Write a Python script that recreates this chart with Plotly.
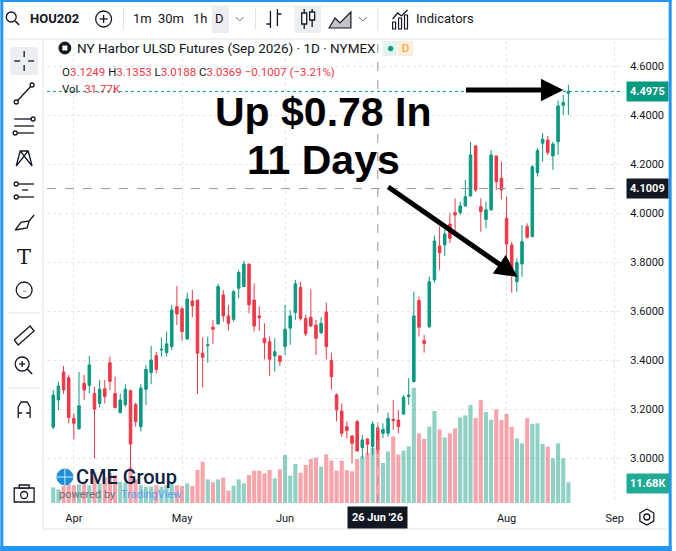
import pandas as pd
import plotly.graph_objects as go

# ---- data (NY Harbor ULSD, Sep 2026, daily) ----
holidays = ["2026-04-03", "2026-05-25", "2026-06-19", "2026-07-03"]
dates = pd.bdate_range("2026-03-26", "2026-08-19", freq="C", holidays=holidays)
# TradingView spaces bars by index, so the axis runs on bar numbers
calendar = pd.bdate_range("2026-03-26", "2026-09-02", freq="C", holidays=holidays)

open_ = [3.127, 3.238, 3.352, 3.329, 3.163, 3.121, 3.306, 3.298, 3.265, 3.224,
         3.284, 3.390, 3.264, 3.186, 3.219, 3.276, 3.220, 3.129, 3.282, 3.350,
         3.419, 3.442, 3.431, 3.456, 3.619, 3.610, 3.487, 3.642, 3.646, 3.429,
         3.460, 3.535, 3.548, 3.667, 3.581, 3.567, 3.694, 3.701, 3.793, 3.646,
         3.581, 3.490, 3.476, 3.418, 3.418, 3.456, 3.531, 3.595, 3.698, 3.571,
         3.576, 3.544, 3.513, 3.597, 3.399, 3.259, 3.193, 3.129, 3.091, 3.150,
         3.044, 3.079, 3.048, 3.1249, 3.102, 3.102, 3.159, 3.156, 3.181, 3.252,
         3.313, 3.644, 3.480, 3.537, 3.728, 3.867, 3.871, 3.956, 4.003, 4.003,
         4.030, 4.071, 4.275, 4.027, 3.975, 4.014, 4.234, 4.143, 3.980, 3.871,
         3.721, 3.793, 3.946, 3.905, 4.166, 4.286, 4.299, 4.234, 4.292, 4.441,
         4.490]
high = [3.279, 3.313, 3.377, 3.340, 3.184, 3.352, 3.340, 3.418, 3.293, 3.320,
        3.320, 3.415, 3.333, 3.265, 3.302, 3.280, 3.227, 3.302, 3.381, 3.459,
        3.435, 3.493, 3.517, 3.626, 3.703, 3.619, 3.676, 3.687, 3.646, 3.493,
        3.497, 3.565, 3.712, 3.687, 3.626, 3.687, 3.769, 3.807, 3.793, 3.714,
        3.619, 3.551, 3.497, 3.490, 3.422, 3.626, 3.605, 3.728, 3.721, 3.585,
        3.690, 3.565, 3.576, 3.635, 3.431, 3.265, 3.224, 3.150, 3.095, 3.156,
        3.095, 3.082, 3.150, 3.1353, 3.143, 3.186, 3.238, 3.197, 3.259, 3.327,
        3.680, 3.660, 3.503, 3.742, 3.909, 3.946, 3.932, 4.000, 4.061, 4.048,
        4.136, 4.292, 4.279, 4.061, 4.048, 4.258, 4.234, 4.211, 4.068, 3.884,
        3.816, 3.952, 3.959, 4.197, 4.265, 4.327, 4.316, 4.292, 4.460, 4.483,
        4.524]
low = [3.120, 3.197, 3.263, 3.143, 3.078, 3.116, 3.238, 3.265, 3.000, 3.208,
       3.224, 3.279, 3.204, 3.184, 3.211, 2.952, 3.129, 3.109, 3.218, 3.303,
       3.347, 3.415, 3.415, 3.442, 3.544, 3.480, 3.483, 3.576, 3.263, 3.290,
       3.390, 3.467, 3.548, 3.558, 3.521, 3.558, 3.653, 3.701, 3.592, 3.517,
       3.521, 3.404, 3.336, 3.354, 3.377, 3.422, 3.463, 3.565, 3.562, 3.499,
       3.535, 3.422, 3.507, 3.404, 3.282, 3.150, 3.088, 3.082, 2.980, 3.027,
       3.000, 3.014, 3.014, 3.0188, 3.082, 3.088, 3.116, 3.102, 3.177, 3.218,
       3.309, 3.497, 3.431, 3.531, 3.717, 3.769, 3.826, 3.878, 3.912, 3.993,
       4.027, 4.068, 4.088, 3.925, 3.939, 4.011, 4.095, 4.057, 3.810, 3.676,
       3.680, 3.741, 3.897, 3.902, 4.150, 4.211, 4.238, 4.177, 4.238, 4.401,
       4.401]
close = [3.258, 3.295, 3.279, 3.166, 3.143, 3.214, 3.279, 3.381, 3.201, 3.282,
         3.252, 3.314, 3.207, 3.238, 3.282, 3.058, 3.150, 3.286, 3.363, 3.401,
         3.363, 3.445, 3.467, 3.605, 3.589, 3.517, 3.650, 3.623, 3.429, 3.412,
         3.463, 3.527, 3.701, 3.581, 3.551, 3.680, 3.758, 3.793, 3.626, 3.540,
         3.574, 3.472, 3.404, 3.435, 3.395, 3.527, 3.581, 3.712, 3.571, 3.508,
         3.540, 3.490, 3.551, 3.456, 3.333, 3.197, 3.102, 3.113, 3.061, 3.030,
         3.075, 3.057, 3.140, 3.0369, 3.118, 3.163, 3.154, 3.129, 3.249, 3.258,
         3.581, 3.535, 3.469, 3.721, 3.887, 3.839, 3.916, 3.898, 3.993, 4.030,
         4.068, 4.238, 4.095, 4.007, 4.014, 4.238, 4.129, 4.095, 3.875, 3.776,
         3.799, 3.884, 3.902, 4.190, 4.256, 4.302, 4.248, 4.283, 4.438, 4.452,
         4.4975]
volume_k = [8.8, 7.7, 9.5, 10.5, 10.0, 10.5, 12.0, 10.0, 16.7, 11.0,
            14.5, 16.7, 15.8, 12.0, 11.5, 20.1, 13.3, 10.0, 9.2, 9.2,
            10.0, 9.2, 10.0, 10.7, 10.0, 9.5, 11.1, 9.6, 18.6, 23.3,
            13.3, 11.7, 13.3, 14.3, 7.0, 9.8, 13.3, 11.1, 15.8, 18.2,
            18.2, 16.7, 18.6, 13.9, 19.0, 27.1, 15.4, 22.0, 17.1, 21.4,
            24.8, 25.6, 20.5, 27.4, 23.9, 18.2, 23.9, 18.6, 17.9, 24.8,
            26.3, 28.2, 31.0, 31.77, 22.6, 29.1, 37.6, 27.3, 29.5, 32.0,
            65.0, 39.3, 36.1, 43.0, 51.9, 41.5, 37.0, 39.3, 42.1, 48.3,
            49.4, 55.3, 47.9, 58.1, 51.3, 47.0, 52.8, 46.8, 50.2, 43.0,
            36.5, 33.7, 47.9, 44.6, 44.9, 33.3, 31.8, 25.2, 33.7, 25.2,
            11.68]

month_ticks = ["2026-04-01", "2026-05-01", "2026-06-01", "2026-08-03", "2026-09-01"]
month_labels = ["Apr", "May", "Jun", "Aug", "Sep"]
price_ticks = [3.0, 3.2, 3.4, 3.6, 3.8, 4.0, 4.2, 4.4, 4.6]
cross_date = "2026-06-26"
cross_price = 4.1009
last_price = close[-1]
last_vol = volume_k[-1]

bars = list(range(len(dates)))
tick_bars = [calendar.get_loc(pd.Timestamp(d)) for d in month_ticks]
cross_bar = calendar.get_loc(pd.Timestamp(cross_date))

UP, DOWN = "#089981", "#F23645"
TXT = "#131722"
FONT = "Roboto"

# pixel frame of the chart pane, used to place the chrome around it
W, H = 676, 551
PL, PR, PT, PB = 47, 627, 41, 503
BAR0, BAR_PX = 53.3, 5.187      # first bar centre and bar spacing in the screenshot


def px(x):
    return (x - PL) / (PR - PL)


def py(y):
    return (PB - y) / (PB - PT)


def price_at(y):
    return 3.0 + (458.3 - y) / 245.0


shapes = []
annotations = []


def seg(x0, y0, x1, y1, color=TXT, width=1.3):
    shapes.append(dict(type="line", xref="paper", yref="paper", x0=px(x0), y0=py(y0),
                       x1=px(x1), y1=py(y1), line=dict(color=color, width=width)))


def rect(x0, y0, x1, y1, fill, line=None, lw=0):
    shapes.append(dict(type="rect", xref="paper", yref="paper", x0=px(x0), y0=py(y0),
                       x1=px(x1), y1=py(y1), fillcolor=fill, layer="above",
                       line=dict(color=line or fill, width=lw)))


def circ(cx, cy, r, fill="rgba(0,0,0,0)", line=TXT, lw=1.3):
    shapes.append(dict(type="circle", xref="paper", yref="paper", x0=px(cx - r), y0=py(cy - r),
                       x1=px(cx + r), y1=py(cy + r), fillcolor=fill, layer="above",
                       line=dict(color=line, width=lw)))


def path(points, color=TXT, width=1.3, fill=None):
    d = ""
    for i, (x, y) in enumerate(points):
        if x is None:
            continue
        cmd = "M" if i == 0 or points[i - 1][0] is None else "L"
        d += f"{cmd}{px(x):.5f},{py(y):.5f} "
    if fill:
        d += "Z"
    shapes.append(dict(type="path", xref="paper", yref="paper", path=d, layer="above",
                       fillcolor=fill or "rgba(0,0,0,0)", line=dict(color=color, width=width)))


def text(x, y, s, size=13, color=TXT, anchor="center", bg=None, family=FONT, pad=1, weight=None):
    f = dict(family=family, size=size, color=color)
    if weight:
        f["weight"] = weight
    annotations.append(dict(xref="paper", yref="paper", x=px(x), y=py(y), text=s,
                            showarrow=False, xanchor=anchor, yanchor="middle",
                            font=f, bgcolor=bg, borderpad=pad))


fig = go.Figure()

# volume sits on the base axis so the candles are drawn above it
vol_colors = ["rgba(8,153,129,0.45)" if c >= o else "rgba(242,54,69,0.45)"
              for o, c in zip(open_, close)]
fig.add_trace(go.Bar(x=bars, y=volume_k, marker=dict(color=vol_colors, line=dict(width=0)),
                     customdata=dates.strftime("%d %b '%y"), yaxis="y",
                     hoverinfo="skip", showlegend=False))
fig.add_trace(go.Candlestick(x=bars, open=open_, high=high, low=low, close=close, yaxis="y2",
                             increasing=dict(line=dict(color=UP, width=1), fillcolor=UP),
                             decreasing=dict(line=dict(color=DOWN, width=1), fillcolor=DOWN),
                             hoverinfo="skip", showlegend=False))

# crosshair and last-price line
shapes.append(dict(type="line", xref="x", yref="paper", x0=cross_bar, x1=cross_bar, y0=0, y1=1,
                   line=dict(color="#9598a1", width=1, dash="dash")))
shapes.append(dict(type="line", xref="paper", yref="y2", x0=0, x1=1, y0=cross_price, y1=cross_price,
                   line=dict(color="#9598a1", width=1, dash="dash")))
shapes.append(dict(type="line", xref="paper", yref="y2", x0=0, x1=1, y0=last_price, y1=last_price,
                   line=dict(color=UP, width=1, dash="dot")))

# frame: blue border, separators
rect(0, 0, 3, H, "#2196F3")
rect(W - 3, 0, W, H, "#2196F3")
rect(0, 0, W, 2, "#2196F3")
rect(0, H - 5, W, H, "#2196F3")
seg(3, 39, W - 3, 39, "#e0e3eb", 1)
seg(43, 39, 43, 529, "#e0e3eb", 1)
seg(43, 529, W - 3, 529, "#e0e3eb", 1)

# ---- top toolbar ----
circ(11, 17, 5)
seg(15, 21, 19, 25, TXT, 1.6)
text(28, 19, "<b>HOU202</b>", 13, anchor="left")
circ(104, 19, 8)
seg(100, 19, 108, 19)
seg(104, 15, 104, 23)
seg(124, 8, 124, 30, "#e0e3eb", 1)
text(143, 19, "1m")
text(172, 19, "30m")
text(201, 19, "1h")
rect(213, 6, 230, 33, "#eceef2")
text(221, 19, "D")
path([(237, 17), (241, 21), (245, 17)], "#6a6d78", 1)
seg(257, 8, 257, 30, "#e0e3eb", 1)
path([(272, 11), (272, 28), (None, None), (268, 24), (272, 24), (None, None),
      (279, 9), (279, 26), (None, None), (279, 14), (283, 14)])
rect(296, 6, 323, 33, "#eceef2")
path([(306, 9), (306, 29)])
rect(303.5, 13, 308.5, 24, "#ffffff", TXT, 1.3)
path([(314, 9), (314, 27)])
rect(311.5, 12, 316.5, 20, "#ffffff", TXT, 1.3)
path([(331, 28), (337, 18), (342, 23), (353, 12), (353, 28)], TXT, 1.2, fill="rgba(19,23,34,0.25)")
path([(361, 17), (365, 21), (369, 17)], "#6a6d78", 1)
seg(380, 8, 380, 30, "#e0e3eb", 1)
path([(395, 19), (400, 13), (404, 16), (410, 10)])
rect(395, 22, 398, 29, "#ffffff", TXT, 1.2)
rect(401, 18, 404, 29, "#ffffff", TXT, 1.2)
rect(407, 15, 410, 29, "#ffffff", TXT, 1.2)
text(417, 19, "Indicators", 13, anchor="left")

# ---- left toolbar ----
rect(10, 47, 38, 75, "#eceef2")
seg(24, 51, 24, 57)
seg(24, 65, 24, 71)
seg(14, 61, 20, 61)
seg(28, 61, 34, 61)
seg(17, 101, 31, 86)
circ(16, 102, 2, "#ffffff")
circ(32, 85, 2, "#ffffff")
for yy in (119, 126, 133):
    seg(14, yy, 34, yy)
circ(33, 119, 2, "#ffffff")
circ(15, 133, 2, "#ffffff")
path([(16, 166), (20, 151), (28, 151), (32, 166), (None, None), (16, 166), (24, 156), (32, 166),
      (None, None), (20, 151), (24, 156), (28, 151)])
seg(16, 184, 34, 184)
seg(16, 197, 34, 197)
seg(22, 190, 28, 190)
circ(16, 184, 2, "#ffffff")
circ(16, 197, 2, "#ffffff")
path([(15, 230), (21, 222), (29, 221), (27, 228), (15, 230), (None, None), (29, 221), (34, 215)])
text(24, 257, "T", 21, family="DejaVu Serif")
circ(24, 290, 8)
text(24, 291, "ᵕ", 10)
seg(8, 313, 40, 313, "#e0e3eb", 1)
path([(14, 340), (30, 326), (34, 331), (18, 345), (14, 340)])
circ(22, 364, 7)
seg(19, 364, 25, 364)
seg(22, 361, 22, 367)
seg(27, 369, 32, 374, TXT, 1.6)
seg(8, 388, 40, 388, "#e0e3eb", 1)
path([(18, 418), (18, 407), (21, 402), (27, 402), (30, 407), (30, 418), (None, None),
      (18, 413), (22, 413), (None, None), (26, 413), (30, 413)])
rect(14, 488, 34, 502, "#ffffff", TXT, 1.3)
rect(19, 485, 29, 488, "#ffffff", TXT, 1.3)
circ(24, 495, 3.5)

# ---- legend header ----
circ(65, 48, 6, TXT, TXT, 1)
rect(62.5, 45.5, 67.5, 50.5, "#ffffff")
text(75, 48, "NY Harbor ULSD Futures (Sep 2026) · 1D · NYMEX", 13.5, anchor="left")
rect(385, 41, 400, 56, "#e3f3ef")
rect(400, 41, 416, 56, "#fdeedb")
circ(393, 48.5, 2.5, UP, UP, 0.5)
text(408, 48.5, "D", 11, "#ff9800")
red = f"<span style='color:{DOWN}'>"
text(60, 72, f"O{red}3.1249</span> H{red}3.1353</span> L{red}3.0188</span> "
             f"C{red}3.0369</span> {red}−0.1007 (−3.21%)</span>", 11.5, anchor="left")
text(60, 89, f"Vol  {red}{volume_k[cross_bar]:.2f}K</span>", 11.5, anchor="left")

# ---- watermark ----
circ(65, 477, 8, "#1e90d8", "#1e90d8", 1)
seg(57, 477, 73, 477, "#ffffff", 0.8)
seg(65, 469, 65, 485, "#ffffff", 0.8)
text(74, 477, "CME Group", 20, "#0b2240", anchor="left", weight=500)
text(57, 494, "powered by", 11, "#6a6d78", anchor="left")
text(119, 494, "TradingView", 11, "#5b9cf6", anchor="left")

# ---- price scale badges ----
text(630, 91, f"<b>{last_price:.4f}</b>", 11, "#ffffff", anchor="left", bg=UP, pad=3)
text(630, 188, f"<b>{cross_price:.4f}</b>", 11, "#ffffff", anchor="left", bg=TXT, pad=3)
text(630, 483, f"<b>{last_vol:.2f}K</b>", 11, "#ffffff", anchor="left", bg="#22ab94", pad=3)
annotations.append(dict(x=cross_bar, xref="x", yref="paper", y=py(517),
                        text="<b>" + pd.Timestamp(cross_date).strftime("%d %b '%y") + "</b>",
                        showarrow=False, xanchor="center", yanchor="middle", bgcolor=TXT,
                        borderpad=4, font=dict(family=FONT, size=11, color="#ffffff")))
circ(651, 517, 3)
path([(651, 509), (658, 513), (658, 521), (651, 525), (644, 521), (644, 513), (651, 509)])

# ---- call-out ----
text(325, 112, "<b>Up $0.78 In</b>", 41, "#000000", family="Liberation Sans")
text(325, 160, "<b>11 Days</b>", 41, "#000000", family="Liberation Sans")
annotations.append(dict(xref="paper", yref="paper", x=px(567), y=py(90), ax=-99, ay=0,
                        text="", showarrow=True, arrowhead=2, arrowsize=0.9, arrowwidth=5,
                        arrowcolor="#000000"))
annotations.append(dict(xref="paper", yref="paper", x=px(521), y=py(277), ax=-131, ay=-91,
                        text="", showarrow=True, arrowhead=2, arrowsize=0.9, arrowwidth=5,
                        arrowcolor="#000000"))

fig.update_layout(
    width=W, height=H, autosize=False,
    margin=dict(l=PL, r=W - PR, t=PT, b=H - PB),
    paper_bgcolor="#ffffff", plot_bgcolor="#ffffff",
    bargap=0.2, showlegend=False,
    font=dict(family=FONT, size=11, color=TXT),
    xaxis=dict(
        range=[(PL - BAR0) / BAR_PX, (PR - BAR0) / BAR_PX],
        rangeslider=dict(visible=False),
        tickvals=tick_bars, ticktext=month_labels,
        ticks="outside", ticklen=5, tickcolor="rgba(0,0,0,0)",
        tickfont=dict(family=FONT, size=11, color=TXT),
        showgrid=True, gridcolor="#e3e6ec", griddash="dot", gridwidth=1,
        zeroline=False, showline=False, fixedrange=True,
    ),
    yaxis=dict(range=[0, (PB - PT) / 1.773], visible=False, showgrid=False, fixedrange=True),
    yaxis2=dict(
        overlaying="y", side="right", range=[price_at(PB), price_at(PT)],
        tickvals=price_ticks, tickformat=".4f",
        ticks="outside", ticklen=4, tickcolor="rgba(0,0,0,0)",
        tickfont=dict(family=FONT, size=11, color=TXT),
        showgrid=True, gridcolor="#e3e6ec", griddash="dot", gridwidth=1,
        zeroline=False, showline=False, fixedrange=True,
    ),
    shapes=shapes,
    annotations=annotations,
)

# the page body carries a default 8px margin; drop it so the figure fills the window
fig.write_html("out.html", config={"displayModeBar": False},
               post_script="document.body.style.margin='0';")
